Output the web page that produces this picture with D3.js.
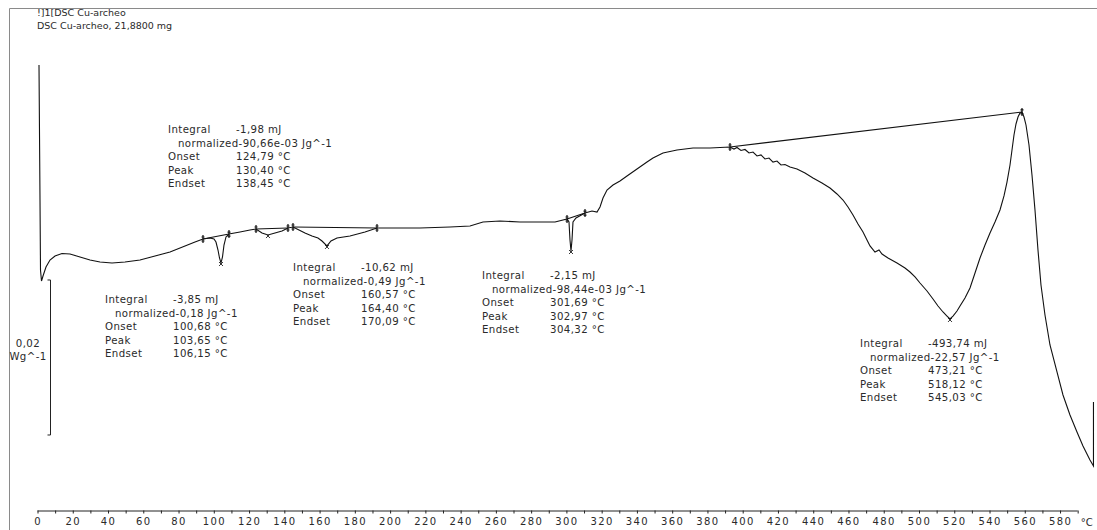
<!DOCTYPE html>
<html><head><meta charset="utf-8">
<script src="https://cdn.jsdelivr.net/npm/d3@7/dist/d3.min.js"></script>
<style>
body{margin:0;background:#fff;}
svg text{font-family:"DejaVu Sans",sans-serif;fill:#2a2a2a;}
</style></head><body>
<svg id="c" width="1097" height="530"></svg>
<script>
// ---------- data ----------
const titleLines = ["!]1[DSC Cu-archeo", "DSC Cu-archeo, 21,8800 mg"];
// temperature (°C)
const tempC = [0.85,1.42,1.70,2.27,3.12,4.82,7.09,9.93,13.90,18.43,24.11,29.78,35.45,42.26,49.63,58.14,66.65,75.16,83.66,89.34,93.87,97.84,100.11,101.24,102.38,103.23,104.08,104.93,105.78,106.92,108.62,114.86,120.53,123.94,127.34,130.74,134.71,138.68,142.08,144.92,147.19,151.72,155.69,159.10,161.37,164.20,166.47,169.88,177.25,185.76,192.57,199.94,216.96,233.98,245.32,252.69,262.34,273.68,285.02,293.53,298.07,300.34,301.47,302.04,302.61,303.18,303.74,305.44,310.55,314.52,317.36,319.06,320.76,323.03,326.43,330.40,334.37,340.04,345.71,349.12,354.79,362.73,371.81,381.45,392.79,395.06,396.77,399.04,401.30,403.57,405.84,408.11,410.38,412.65,414.92,417.18,419.45,421.72,423.99,426.83,430.80,435.33,439.87,444.97,449.52,453.49,456.89,459.73,462.56,465.40,468.24,470.50,472.21,475.04,477.31,479.02,482.42,487.52,492.06,494.89,497.73,500.57,504.54,507.94,510.78,513.61,515.88,517.58,519.28,521.55,523.26,526.09,528.93,531.77,534.60,537.44,540.27,543.11,545.94,548.21,549.91,551.62,552.75,553.88,555.02,556.15,557.29,558.42,559.56,560.69,562.39,564.09,565.79,567.49,569.19,571.46,574.30,578.27,581.67,585.64,589.61,593.01,596.98,598.96,598.96];
// heat flow (mW/g, relative)
const heatFlow = [21.29,3.87,-5.16,-6.58,-5.94,-4.77,-3.87,-3.35,-3.03,-3.10,-3.48,-3.87,-4.13,-4.26,-4.13,-3.87,-3.35,-2.84,-2.06,-1.55,-1.16,-1.03,-1.16,-1.55,-2.58,-3.61,-4.26,-3.48,-1.94,-0.90,-0.52,-0.26,0,0.13,-0.39,-0.65,-0.39,-0.13,0.26,0.39,0.13,-0.39,-0.77,-1.03,-1.42,-2.06,-1.42,-1.03,-0.77,-0.26,0.26,0.26,0.26,0.39,0.52,1.03,1.16,1.03,1.03,1.03,1.29,1.42,1.03,-1.29,-2.71,-1.29,1.03,1.55,2.19,2.45,2.32,2.97,4.13,5.16,5.81,6.32,6.97,7.87,8.77,9.29,9.94,10.32,10.58,10.58,10.71,10.45,10.65,10.26,10.39,9.94,10.06,9.55,9.68,9.16,9.29,8.77,8.90,8.39,8.45,8.13,7.87,7.35,6.71,6.06,5.42,4.65,3.87,2.97,1.94,0.77,-0.26,-1.29,-2.06,-2.84,-2.58,-3.10,-3.61,-4.26,-4.90,-5.42,-6.06,-6.84,-7.87,-8.90,-9.81,-10.58,-11.10,-11.48,-11.10,-10.45,-9.81,-8.77,-7.48,-5.55,-3.61,-1.94,-0.39,1.03,2.58,4.39,6.19,8.39,10.32,12.26,13.68,14.58,15.10,15.23,14.58,13.55,10.97,7.10,2.58,-2.58,-7.10,-10.97,-14.84,-18.32,-21.29,-23.87,-26.06,-27.87,-29.68,-30.45,-22.19];

const xTickValues = d3.range(0, 591, 10);
const xTickLabels = ["0","20","40","60","80","100","120","140","160","180","200","220","240","260","280","300","320","340","360","380","400","420","440","460","480","500","520","540","560","580"];
const xUnit = "°C";

const scaleBarTop = -6.45;          // mW/g
const scaleBarSpan = 20;            // mW/g = 0,02 W/g
const scaleBarLabel = ["0,02", "Wg^-1"];

// integration limits: start T, start HF, end T, end HF
const limStartT = [93.87, 123.94, 144.92, 300.34, 392.79];
const limStartHF = [-1.16, 0.13, 0.39, 1.42, 10.71];
const limEndT = [108.62, 142.08, 192.57, 310.55, 558.42];
const limEndHF = [-0.52, 0.26, 0.26, 2.19, 15.23];
const peakT = [104.08, 130.74, 164.20, 302.61, 517.58];
const peakHF = [-4.26, -0.65, -2.06, -2.71, -11.48];

const annIntegral = ["-3,85 mJ", "-1,98 mJ", "-10,62 mJ", "-2,15 mJ", "-493,74 mJ"];
const annNormalized = ["-0,18 Jg^-1", "-90,66e-03 Jg^-1", "-0,49 Jg^-1", "-98,44e-03 Jg^-1", "-22,57 Jg^-1"];
const annOnset = ["100,68 °C", "124,79 °C", "160,57 °C", "301,69 °C", "473,21 °C"];
const annPeak = ["103,65 °C", "130,40 °C", "164,40 °C", "302,97 °C", "518,12 °C"];
const annEndset = ["106,15 °C", "138,45 °C", "170,09 °C", "304,32 °C", "545,03 °C"];

// ---------- layout ----------
const annPos = [[105, 303], [168, 133], [293, 271], [482, 279], [860, 347]];
const rowH = 13.5, valDx = 68, normDx = 10;
const fs = 10.2, ls = 0.4;

const svg = d3.select("#c");
const x = d3.scaleLinear().domain([0, 580]).range([37.5, 37.5 + 580 * 1.763]);
const y = d3.scaleLinear().domain([0, 20]).range([230, 75]);

// frame
svg.append("path").attr("d", "M9.5,530 L9.5,8.5 L1097,8.5").attr("fill", "none").attr("stroke", "#8a8a8a").attr("stroke-width", 1);

// title
svg.selectAll("text.title").data(titleLines).enter().append("text")
  .attr("x", 37).attr("y", (d, i) => 16 + i * 12.5).attr("font-size", 9.5).text(d => d);

// x axis
const axisY = 510.5;
const xAxis = d3.axisBottom(x).tickValues(xTickValues).tickSize(3).tickSizeOuter(0)
  .tickFormat(d => (d % 20 === 0 && d <= 580) ? xTickLabels[d / 20] : "");
const gx = svg.append("g").attr("transform", `translate(0,${axisY})`).call(xAxis);
gx.select(".domain").attr("stroke", "#222").attr("d", `M${x(0)},0.5H${x(590)}`);
gx.selectAll(".tick line").attr("stroke", "#222");
gx.selectAll(".tick text").attr("font-size", 10).attr("letter-spacing", 1.4)
  .attr("fill", "#2a2a2a").attr("font-family", "DejaVu Sans").attr("dy", "0.85em");
svg.append("text").attr("x", x(590) + 3).attr("y", axisY + 15).attr("font-size", 10).text(xUnit);

// scale bar
const sbX = 50.5;
const sbTop = y(scaleBarTop), sbBot = y(scaleBarTop - scaleBarSpan);
svg.append("path").attr("d", `M${sbX - 3},${sbTop}H${sbX}V${sbBot}H${sbX - 3}`)
  .attr("fill", "none").attr("stroke", "#222");
svg.selectAll("text.sb").data(scaleBarLabel).enter().append("text")
  .attr("x", 28).attr("y", (d, i) => 347 + i * 12.5)
  .attr("text-anchor", "middle").attr("font-size", fs).attr("letter-spacing", ls).text(d => d);

// curve
const pts = tempC.map((t, i) => [t, heatFlow[i]]);
svg.append("path").datum(pts)
  .attr("d", d3.line().x(d => x(d[0])).y(d => y(d[1])))
  .attr("fill", "none").attr("stroke", "#111").attr("stroke-width", 1.1);

// integration baselines & markers
limStartT.forEach((t0, i) => {
  const x0 = x(t0), y0 = y(limStartHF[i]), x1 = x(limEndT[i]), y1 = y(limEndHF[i]);
  svg.append("line").attr("x1", x0).attr("y1", y0).attr("x2", x1).attr("y2", y1)
    .attr("stroke", "#111").attr("stroke-width", 1.1);
  [[x0, y0], [x1, y1]].forEach(([mx, my]) => {
    svg.append("path").attr("d", `M${mx},${my - 4}V${my + 4}M${mx - 1.5},${my - 2}H${mx + 1.5}M${mx - 1.5},${my + 2}H${mx + 1.5}`)
      .attr("stroke", "#111").attr("stroke-width", 1.2).attr("fill", "none");
  });
  const px = x(peakT[i]), py = y(peakHF[i]) + 1;
  svg.append("path").attr("d", `M${px - 2},${py - 2}L${px + 2},${py + 2}M${px - 2},${py + 2}L${px + 2},${py - 2}`)
    .attr("stroke", "#222").attr("stroke-width", 0.9);
});

// annotations
annPos.forEach(([ax, ay], i) => {
  const g = svg.append("g").attr("font-size", fs).attr("letter-spacing", ls);
  const rows = [["Integral", annIntegral[i]], null, ["Onset", annOnset[i]], ["Peak", annPeak[i]], ["Endset", annEndset[i]]];
  rows.forEach((r, j) => {
    const yy = ay + j * rowH;
    if (r === null) {
      g.append("text").attr("x", ax + normDx).attr("y", yy).text("normalized" + annNormalized[i]);
    } else {
      g.append("text").attr("x", ax).attr("y", yy).text(r[0]);
      g.append("text").attr("x", ax + valDx).attr("y", yy).text(r[1]);
    }
  });
});
</script>
</body></html>
